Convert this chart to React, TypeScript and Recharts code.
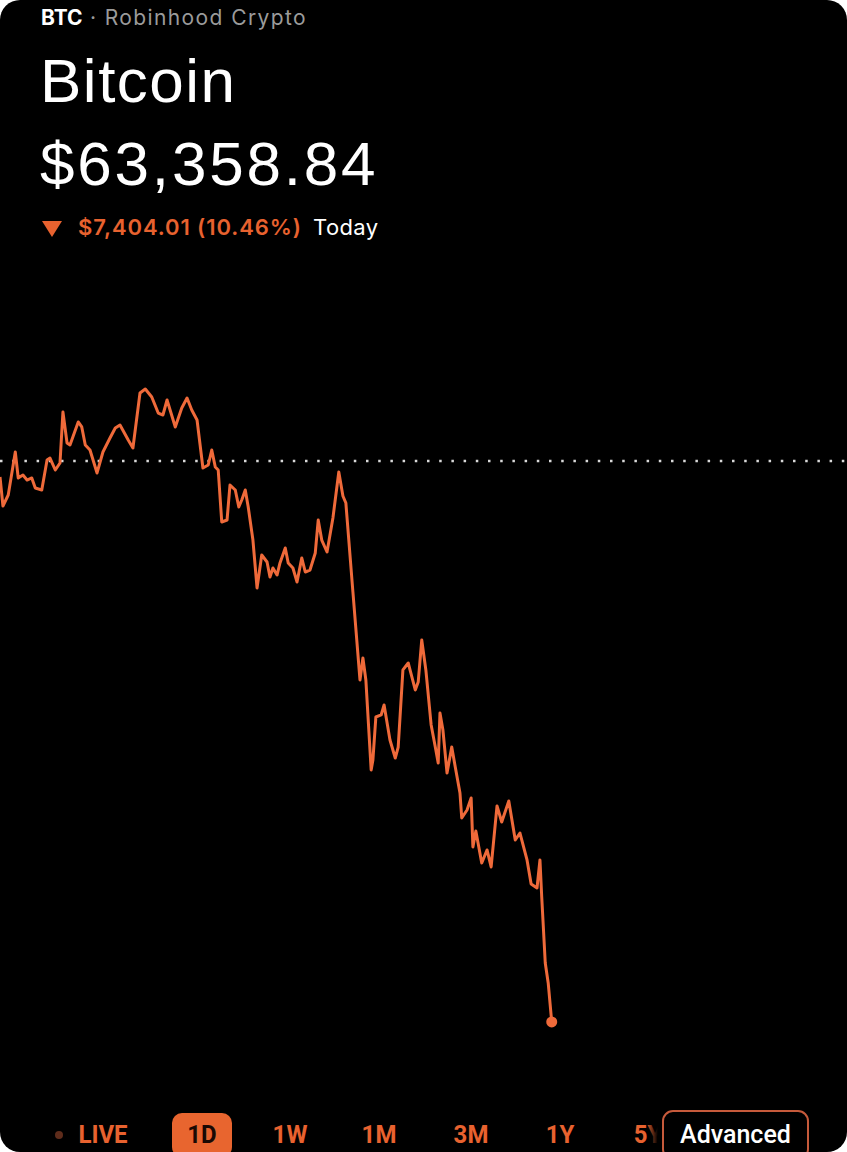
import { LineChart, Line, XAxis, YAxis, ReferenceLine, ReferenceDot } from "recharts";

// minutes since midnight
const times = [
  0, 5, 14, 26, 31, 39, 46, 54, 60, 71, 80, 85, 94, 102, 107, 114, 119, 133, 139, 145,
  153, 165, 175, 187, 196, 204, 218, 226, 238, 247, 258, 269, 277, 284, 298, 309, 318, 326, 335, 345,
  354, 360, 366, 371, 377, 386, 391, 400, 406, 411, 417, 422, 430, 437, 445, 454, 459, 464, 471, 476,
  485, 490, 498, 505, 513, 519, 527, 536, 541, 547, 556, 566, 576, 583, 588, 600, 612, 617, 622, 631,
  634, 639, 648, 653, 663, 672, 677, 685, 694, 706, 711, 717, 724, 733, 741, 745, 748, 753, 760, 768,
  774, 782, 785, 794, 801, 804, 809, 819, 828, 835, 845, 853, 865, 876, 884, 896, 903, 913, 918, 921,
  927, 932, 938,
];

const prices = [
  70552, 70169, 70314, 70882, 70539, 70578, 70512, 70539, 70407, 70380, 70776, 70802, 70644, 70737, 71410, 71000, 70974, 71278, 71212, 70974,
  70908, 70605, 70882, 71066, 71198, 71238, 71040, 70934, 71660, 71713, 71608, 71396, 71370, 71568, 71212, 71462, 71594, 71436, 71304, 70671,
  70710, 70908, 70684, 70644, 69958, 69984, 70446, 70380, 70156, 70248, 70380, 70156, 69720, 69087, 69522, 69430, 69232, 69351, 69258, 69417,
  69615, 69417, 69351, 69166, 69483, 69298, 69324, 69549, 69984, 69720, 69562, 70011, 70618, 70301, 70209, 69034, 67873, 68163, 67873, 66685,
  66817, 67384, 67411, 67543, 67081, 66843, 66988, 68005, 68097, 67741, 67846, 68400, 68005, 67279, 66949, 66777, 67437, 67213, 66645, 66988,
  66724, 66381, 66051, 66157, 66315, 65669, 65880, 65457, 65629, 65405, 66210, 65998, 66276, 65761, 65853, 65497, 65180, 65127, 65497, 65009,
  64137, 63874, 63358.84,
];

const lastPrice = 63358.84;
const change = 7404.01;
const changePct = 10.46;
const prevClose = lastPrice + change;

const ranges = ["1D", "1W", "1M", "3M", "1Y"];
const rangeCenters = [202, 290, 379, 471, 560];

const data = times.map((t, i) => ({ t, price: prices[i] }));
const last = data[data.length - 1];

const ORANGE = "#ef6a3a";
const TEXT_ORANGE = "#e8622f";

const labelStyle = {
  position: "absolute" as const,
  top: 1122,
  color: TEXT_ORANGE,
  fontFamily: "Roboto",
  fontWeight: 700,
  fontSize: 24,
  lineHeight: "24px",
  transform: "translateX(-50%) scaleY(1.08)",
};

export default function App() {
  return (
    <div style={{ position: "relative", width: 847, height: 1152, background: "#000", borderRadius: 20, overflow: "hidden" }}>
      <style>{`body{margin:0;background:#fff}`}</style>

      <div style={{ position: "absolute", left: 41, top: 7, fontFamily: "Inter", fontSize: 21, lineHeight: "21px", whiteSpace: "nowrap" }}>
        <span style={{ color: "#fff", fontWeight: 700 }}>BTC</span>
        <span style={{ color: "#9b9b9b", letterSpacing: 1.4 }}> · Robinhood Crypto</span>
      </div>

      <div style={{ position: "absolute", left: 40, top: 50, color: "#fff", fontFamily: "Liberation Sans", fontSize: 62, lineHeight: "62px", letterSpacing: 1.5 }}>
        Bitcoin
      </div>

      <div style={{ position: "absolute", left: 40, top: 133, color: "#fff", fontFamily: "Liberation Sans", fontSize: 62, lineHeight: "62px", letterSpacing: 2.8 }}>
        ${lastPrice.toLocaleString("en-US", { minimumFractionDigits: 2 })}
      </div>

      <svg style={{ position: "absolute", left: 42, top: 221 }} width={20} height={16}>
        <polygon points="0,0 20,0 10,16" fill={TEXT_ORANGE} />
      </svg>
      <div style={{ position: "absolute", left: 78, top: 216, color: TEXT_ORANGE, fontFamily: "Inter", fontWeight: 600, fontSize: 22, lineHeight: "22px", letterSpacing: 0.9, whiteSpace: "nowrap" }}>
        ${change.toLocaleString("en-US", { minimumFractionDigits: 2 })} ({changePct}%)
      </div>
      <div style={{ position: "absolute", left: 313, top: 216, color: "#fff", fontFamily: "Inter", fontSize: 22, lineHeight: "22px", letterSpacing: 0.4 }}>
        Today
      </div>

      <div style={{ position: "absolute", left: 0, top: 340 }}>
        <LineChart width={847} height={720} data={data} margin={{ top: 0, right: 0, bottom: 0, left: 0 }}>
          <XAxis type="number" dataKey="t" domain={[0, 1440]} hide />
          <YAxis type="number" domain={[62857, 72360]} hide />
          <ReferenceLine y={prevClose} stroke="#d9d9d9" strokeWidth={2.5} strokeDasharray="2.5 9.7" />
          <Line
            type="linear"
            dataKey="price"
            stroke={ORANGE}
            strokeWidth={3}
            strokeLinejoin="round"
            dot={false}
            isAnimationActive={false}
          />
          <ReferenceDot x={last.t} y={last.price} r={5.5} fill={ORANGE} stroke="none" />
        </LineChart>
      </div>

      <div style={{ position: "absolute", left: 55, top: 1131, width: 8, height: 8, borderRadius: 4, background: "#5e2c1b" }} />
      <div style={{ ...labelStyle, left: 103 }}>LIVE</div>

      {ranges.map((r, i) =>
        i === 0 ? (
          <div key={r} style={{ position: "absolute", left: 172, top: 1113, width: 60, height: 44, borderRadius: 10, background: "#e8652f", color: "#1a0904", fontFamily: "Roboto", fontWeight: 700, fontSize: 24, lineHeight: "44px", textAlign: "center" }}>
            <span style={{ position: "relative", top: -1, display: "inline-block", transform: "scaleY(1.08)" }}>{r}</span>
          </div>
        ) : (
          <div key={r} style={{ ...labelStyle, left: rangeCenters[i] }}>
            {r}
          </div>
        )
      )}

      <div style={{ ...labelStyle, left: 648 }}>5Y</div>
      <div style={{ position: "absolute", left: 646, top: 1112, width: 17, height: 40, background: "linear-gradient(to right, rgba(0,0,0,0), #000 70%)" }} />
      <div style={{ position: "absolute", left: 662, top: 1110, width: 143, height: 46, border: "2px solid #c65a3b", borderRadius: 11, background: "#000", color: "#fff", fontFamily: "Roboto", fontWeight: 500, fontSize: 25, lineHeight: "46px", textAlign: "center" }}>
        Advanced
      </div>
    </div>
  );
}
